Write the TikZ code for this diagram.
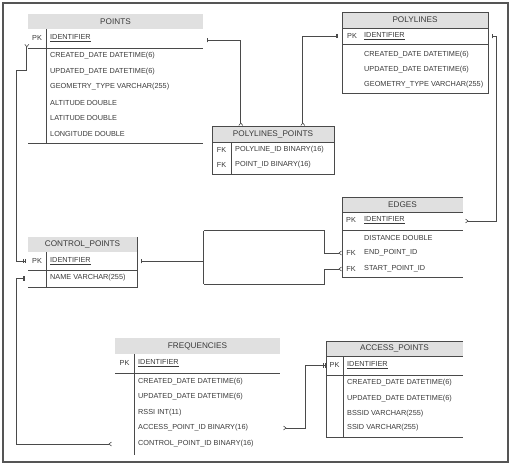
\documentclass[tikz,border=0pt]{standalone}
\usepackage{fontspec}
\setmainfont{Liberation Sans}
\usetikzlibrary{arrows.meta,calc}
\definecolor{ln}{HTML}{4A4A4A}
\definecolor{hd}{HTML}{E0E0E0}
\definecolor{tx}{HTML}{3A3A3A}
\definecolor{frm}{HTML}{555555}
\begin{document}
\begin{tikzpicture}[
  x=1pt, y=-1pt,
  hdr/.style={fill=hd, draw=none, inner sep=0, text=tx, font=\fontsize{8.2}{9}\selectfont},
  fld/.style={anchor=west, inner sep=0, text=tx, font=\fontsize{7.3}{8}\selectfont},
  keyc/.style={inner sep=0, text=tx, font=\fontsize{7.3}{8}\selectfont},
  rowbox/.style={inner sep=0, draw=none},
  tl/.style={draw=ln, line width=0.8pt},
  conn/.style={draw=ln, line width=0.7pt},
  ob/.style={arrows={Bar[width=4.5pt,line width=0.6pt,sep=1.5pt]Bar[width=4.5pt,line width=0.6pt]}-{Straight Barb[reversed,length=2.5pt,width=4pt,line width=0.6pt]}},
  bo/.style={arrows={Straight Barb[reversed,length=2.5pt,width=4pt,line width=0.6pt]}-{Bar[width=4.5pt,line width=0.6pt,sep=1.5pt]Bar[width=4.5pt,line width=0.6pt]}}
]
\useasboundingbox (0,0) rectangle (513,466);
\fill[white] (0,0) rectangle (513,466);
\draw[draw=frm, line width=1.2pt] (3,3) rectangle (508,462);

% ---------- POINTS ----------
\node[hdr, minimum width=175, minimum height=15] (pt) at (115.5,21.5) {POINTS};
\node[rowbox, minimum width=175, minimum height=19] (ptpk) at (115.5,38.5) {};
\draw[tl] (28,48) -- (203,48);
\draw[tl] (28,143) -- (203,143);
\draw[tl] (46,29) -- (46,143);
\node[keyc] (ptk) at (37,38) {PK};
\node[fld] (ptf1) at (50,38) {\underline{IDENTIFIER}};
\node[fld] (ptf2) at (50,56) {CREATED\_DATE DATETIME(6)};
\node[fld] (ptf3) at (50,71.5) {UPDATED\_DATE DATETIME(6)};
\node[fld] (ptf4) at (50,87) {GEOMETRY\_TYPE VARCHAR(255)};
\node[fld] (ptf5) at (50,102.5) {ALTITUDE DOUBLE};
\node[fld] (ptf6) at (50,118) {LATITUDE DOUBLE};
\node[fld] (ptf7) at (50,134) {LONGITUDE DOUBLE};

% ---------- POLYLINES ----------
\node[hdr, minimum width=146, minimum height=16] (pl) at (415,20) {POLYLINES};
\node[rowbox, minimum width=146, minimum height=16] (plpk) at (415,36) {};
\draw[tl] (342,12) rectangle (488,93);
\draw[tl] (342,28) -- (488,28);
\draw[tl] (342,44) -- (488,44);
\node[keyc] (plk) at (352,36) {PK};
\node[fld] (plf1) at (364,36) {\underline{IDENTIFIER}};
\node[fld] (plf2) at (364,55) {CREATED\_DATE DATETIME(6)};
\node[fld] (plf3) at (364,70) {UPDATED\_DATE DATETIME(6)};
\node[fld] (plf4) at (364,85) {GEOMETRY\_TYPE VARCHAR(255)};

% ---------- POLYLINES_POINTS ----------
\node[hdr, minimum width=122, minimum height=16] (ppt) at (273,134) {POLYLINES\_POINTS};
\draw[tl] (212,126) rectangle (334,174);
\draw[tl] (212,142) -- (334,142);
\draw[tl] (231,142) -- (231,174);
\node[keyc] (ppk1) at (221.5,150) {FK};
\node[fld] (ppf1) at (235,150) {POLYLINE\_ID BINARY(16)};
\node[keyc] (ppk2) at (221.5,165) {FK};
\node[fld] (ppf2) at (235,165) {POINT\_ID BINARY(16)};

% ---------- EDGES ----------
\node[hdr, minimum width=121, minimum height=15] (ed) at (402.5,204.5) {EDGES};
\node[rowbox, minimum width=121, minimum height=18] (edpk) at (402.5,221) {};
\node[rowbox, minimum width=121, minimum height=15] (edend) at (402.5,253) {};
\node[rowbox, minimum width=121, minimum height=15] (edstart) at (402.5,269) {};
\draw[tl] (463,197) -- (342,197) -- (342,277) -- (463,277);
\draw[tl] (342,212) -- (463,212);
\draw[tl] (342,230) -- (463,230);
\node[keyc] (edk1) at (351,220) {PK};
\node[fld] (edf1) at (364,220) {\underline{IDENTIFIER}};
\node[fld] (edf2) at (364,238) {DISTANCE DOUBLE};
\node[keyc] (edk3) at (351,253) {FK};
\node[fld] (edf3) at (364,253) {END\_POINT\_ID};
\node[keyc] (edk4) at (351,269) {FK};
\node[fld] (edf4) at (364,269) {START\_POINT\_ID};

% ---------- CONTROL_POINTS ----------
\node[hdr, minimum width=109, minimum height=15] (cp) at (82.5,244.5) {CONTROL\_POINTS};
\node[rowbox, minimum width=109, minimum height=18] (cppk) at (82.5,261) {};
\node[rowbox, minimum width=109, minimum height=17] (cpname) at (82.5,278.5) {};
\draw[tl] (137,237) -- (137,287) -- (28,287);
\draw[tl] (28,270) -- (137,270);
\draw[tl] (46,252) -- (46,287);
\node[keyc] (cpk1) at (37,261) {PK};
\node[fld] (cpf1) at (50,261) {\underline{IDENTIFIER}};
\node[fld] (cpf2) at (50,278) {NAME VARCHAR(255)};

% ---------- empty box ----------
\node[rowbox, minimum width=120, minimum height=53] (bx) at (264,257.5) {};
\draw[tl] (bx.north west) -- (bx.south west);

% ---------- FREQUENCIES ----------
\node[hdr, minimum width=165, minimum height=16] (fr) at (197.5,346) {FREQUENCIES};
\node[rowbox, minimum width=165, minimum height=15] (frac) at (197.5,428) {};
\node[rowbox, minimum width=165, minimum height=15] (frcp) at (197.5,444) {};
\draw[tl] (115,373) -- (280,373);
\draw[tl] (134,354) -- (134,455);
\node[keyc] (frk1) at (124.5,363) {PK};
\node[fld] (frf1) at (138,363) {\underline{IDENTIFIER}};
\node[fld] (frf2) at (138,382) {CREATED\_DATE DATETIME(6)};
\node[fld] (frf3) at (138,397) {UPDATED\_DATE DATETIME(6)};
\node[fld] (frf4) at (138,412.5) {RSSI INT(11)};
\node[fld] (frf5) at (138,428) {ACCESS\_POINT\_ID BINARY(16)};
\node[fld] (frf6) at (138,444) {CONTROL\_POINT\_ID BINARY(16)};

% ---------- ACCESS_POINTS ----------
\node[hdr, minimum width=137, minimum height=15] (ap) at (394.5,348.5) {ACCESS\_POINTS};
\node[rowbox, minimum width=137, minimum height=19] (appk) at (394.5,365.5) {};
\draw[tl] (463,341) -- (326,341) -- (326,437) -- (463,437);
\draw[tl] (326,356) -- (463,356);
\draw[tl] (326,375) -- (463,375);
\draw[tl] (343,356) -- (343,437);
\node[keyc] (apk1) at (334.5,365) {PK};
\node[fld] (apf1) at (347,365) {\underline{IDENTIFIER}};
\node[fld] (apf2) at (347,383) {CREATED\_DATE DATETIME(6)};
\node[fld] (apf3) at (347,399) {UPDATED\_DATE DATETIME(6)};
\node[fld] (apf4) at (347,413.5) {BSSID VARCHAR(255)};
\node[fld] (apf5) at (347,428) {SSID VARCHAR(255)};

% ---------- connectors ----------
\coordinate (lane) at (16,70);
\draw[conn, ob] ([xshift=2pt,yshift=-1.5pt]ptpk.east) -| ($(ppt.north west)+(29,0)$);
\draw[conn, ob] ([xshift=-3pt]plpk.west) -| ($(ppt.north west)+(91,0)$);
\draw[conn, ob] ([xshift=2pt]plpk.east) -- ++(6,0) |- ([xshift=2pt]edpk.east);
\draw[conn, bo] ([xshift=-1pt,yshift=-5.5pt]ptpk.west) |- (lane) |- ([xshift=-2pt]cppk.west);
\draw[conn, ob] ([xshift=-2pt]cpname.west) -| (lane |- frcp.west) -- ([xshift=-3pt]frcp.west);
\draw[conn, arrows={Bar[width=4.5pt,line width=0.6pt,sep=1.5pt]Bar[width=4.5pt,line width=0.6pt]}-] ([xshift=2pt]cppk.east) -- (bx.west |- cppk.east);
\draw[conn, arrows=-{Straight Barb[reversed,length=2.5pt,width=4pt,line width=0.6pt]}] (bx.north west) -- (bx.north east) |- (edend.west);
\draw[conn, arrows=-{Straight Barb[reversed,length=2.5pt,width=4pt,line width=0.6pt]}] (bx.south west) -- (bx.south east) |- (edstart.west);
\draw[conn, bo] ([xshift=3pt]frac.east) -- ++(22,0) |- (appk.west);
\end{tikzpicture}
\end{document}
